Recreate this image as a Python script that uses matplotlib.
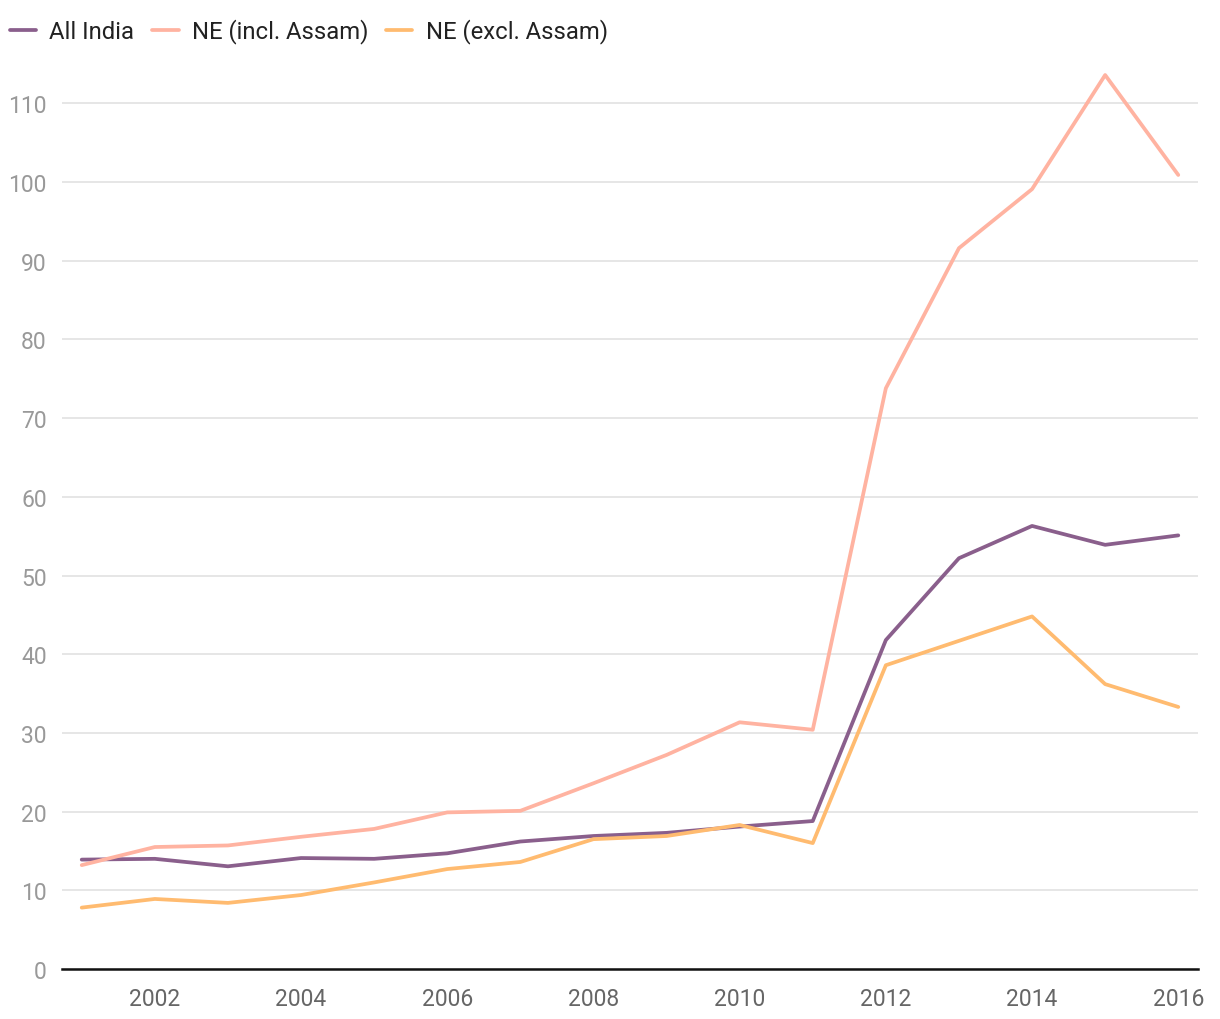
import matplotlib.pyplot as plt

plt.rcParams['font.family'] = ['Roboto', 'DejaVu Sans']

# Данные
years = list(range(2001, 2017))
all_india = [13.9, 14.0, 13.05, 14.1, 14.0, 14.7, 16.2, 16.9, 17.3, 18.1, 18.8,
             41.8, 52.2, 56.3, 53.9, 55.1]
ne_incl = [13.2, 15.5, 15.7, 16.8, 17.8, 19.9, 20.1, 23.6, 27.2, 31.35, 30.4,
           73.8, 91.6, 99.1, 113.6, 100.9]
ne_excl = [7.8, 8.9, 8.4, 9.4, 11.0, 12.7, 13.6, 16.5, 16.9, 18.3, 16.0,
           38.6, 41.7, 44.8, 36.2, 33.3]
labels = ['All India', 'NE (incl. Assam)', 'NE (excl. Assam)']
colors = ['#8a5f8c', '#ffb3a1', '#ffbb70']

fig = plt.figure(figsize=(12.2, 10.2), dpi=100)
ax = fig.add_axes([62 / 1220, 1 - 970 / 1020, (1198 - 62) / 1220, (970 - 65) / 1020])

for vals, lab, c in zip([all_india, ne_incl, ne_excl], labels, colors):
    ax.plot(years, vals, color=c, lw=2.7, label=lab, solid_capstyle='round')

ax.set_xlim(2000.73, 2016.27)
ax.set_ylim(0, 115)
ax.set_yticks(range(0, 111, 10))
ax.set_xticks(range(2002, 2017, 2))
ax.grid(axis='y', color='#e2e2e2', lw=1.2)
ax.set_axisbelow(True)
for s in ['top', 'right', 'left']:
    ax.spines[s].set_visible(False)
ax.spines['bottom'].set_color('#111111')
ax.spines['bottom'].set_linewidth(1.8)
ax.tick_params(axis='y', length=0, pad=11, labelsize=16.5, labelcolor='#999999')
ax.tick_params(axis='x', length=0, pad=13, labelsize=16.5, labelcolor='#666666')

fig.legend(loc='center left', bbox_to_anchor=(10 / 1220, 1 - 32 / 1020), ncol=3,
           frameon=False, fontsize=17.2, handlelength=1.1, handletextpad=0.55,
           columnspacing=0.75, borderpad=0, borderaxespad=0, labelcolor='#222222')

plt.savefig('out.png', dpi=100)
